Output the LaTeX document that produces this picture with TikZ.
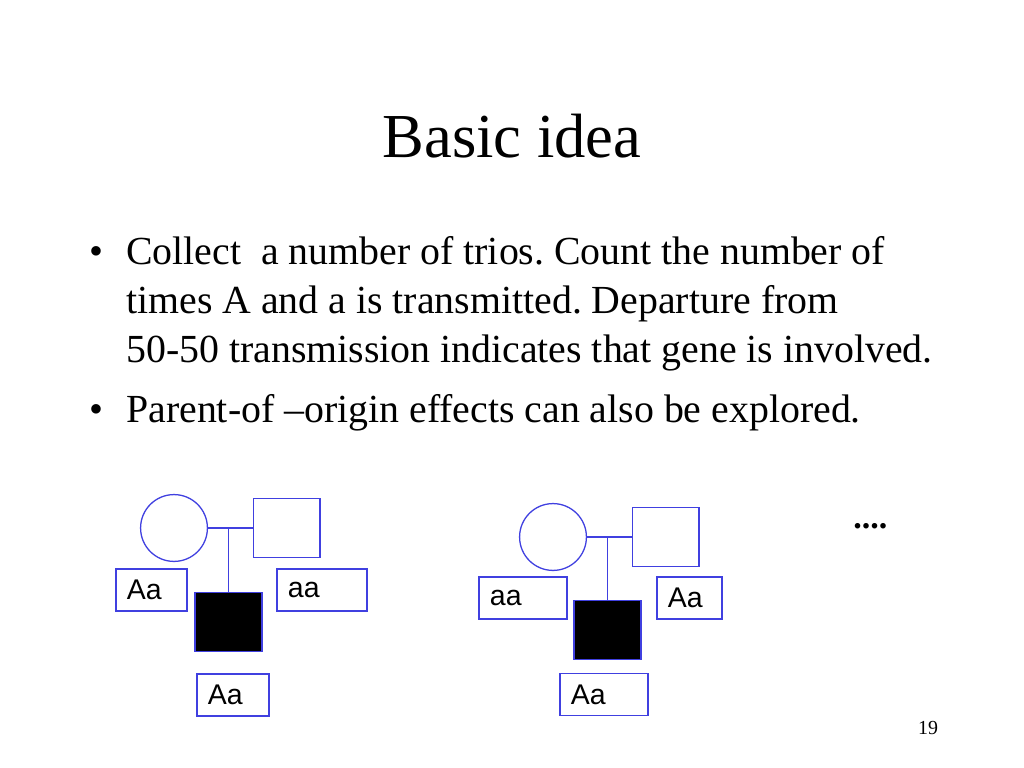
\documentclass[tikz,border=0pt]{standalone}
\usepackage{fontspec}
\setmainfont{Liberation Serif}
\newfontfamily\labfont{Liberation Sans}
\usetikzlibrary{positioning, calc}
\definecolor{pedblue}{RGB}{64,64,224}
\frenchspacing

\begin{document}
\begin{tikzpicture}[x=0.703125pt, y=-0.703125pt,
    female/.style={circle, draw=pedblue, line width=0.9pt, minimum size=47pt, inner sep=0pt},
    male/.style={rectangle, draw=pedblue, line width=0.9pt, minimum width=47pt, minimum height=41pt, inner sep=0pt},
    affected/.style={male, fill=black},
    geno/.style={rectangle, draw=pedblue, line width=0.9pt, font=\labfont\fontsize{20}{24}\selectfont, align=left, minimum height=29.5pt, inner xsep=7.7pt, inner ysep=0pt},
    bodytext/.style={anchor=base west, font=\fontsize{28}{33.75}\selectfont, inner sep=0pt},
    link/.style={draw=pedblue, line width=0.9pt},
    node distance=31.3pt]
    \fill[white] (0,0) rectangle (1024,768);
    \useasboundingbox (0,0) rectangle (1024,768);

    % title and text
    \node[anchor=base, font=\fontsize{44}{52}\selectfont, inner sep=0pt] (title) at (512,158) {Basic idea};
    \node[bodytext] (dot1) at (89,265) {\textbullet};
    \node[bodytext] (line1) at (126,265) {Collect\ \ a number of trios. Count the number of};
    \node[bodytext] (line2) at (126,313) {times A and a is transmitted. Departure from};
    \node[bodytext] (line3) at (126,362) {50-50 transmission indicates that gene is involved.};
    \node[bodytext] (dot2) at (89,422) {\textbullet};
    \node[bodytext] (line4) at (126,422) {Parent-of --origin effects can also be explored.};

    % first trio
    \node[female] (mom1) at (174,528) {};
    \node[male, right=of mom1] (dad1) {};
    \node[affected] (kid1) at (228.5,622) {};
    \path[link] (mom1) -- (dad1);
    \path[link] (kid1.north) -- (kid1.north |- mom1.east);
    \node[geno, text width=34.5pt] (g1mom) at (151.5,590) {Aa};
    \node[geno, text width=47.9pt] (g1dad) at (322,590) {aa};
    \node[geno, text width=35.2pt] (g1kid) at (233,695) {Aa};

    % second trio
    \node[female] (mom2) at (553,537) {};
    \node[male, right=of mom2] (dad2) {};
    \node[affected] (kid2) at (607.5,630) {};
    \path[link] (mom2) -- (dad2);
    \path[link] (kid2.north) -- (kid2.north |- mom2.east);
    \node[geno, text width=46.5pt] (g2mom) at (523,598) {aa};
    \node[geno, text width=30.3pt] (g2dad) at (689.5,598) {Aa};
    \node[geno, text width=46.5pt] (g2kid) at (604,694.5) {Aa};

    \node[anchor=base west, font=\fontsize{24}{28}\selectfont\bfseries, inner sep=0pt] (more) at (853,528) {....};
    \node[anchor=base, font=\fontsize{14}{16}\selectfont, inner sep=0pt] (pagenum) at (928,734) {19};
\end{tikzpicture}
\end{document}
